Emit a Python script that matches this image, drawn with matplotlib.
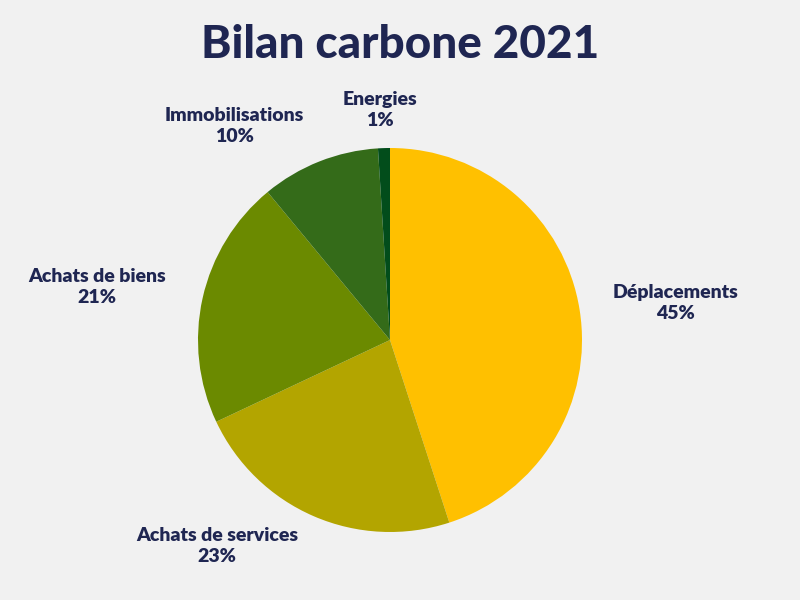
import matplotlib
matplotlib.use("Agg")
import matplotlib.pyplot as plt
import numpy as np

categories = ["Déplacements", "Achats de services", "Achats de biens", "Immobilisations", "Energies"]
values = [45, 23, 21, 10, 1]
colors = ["#FFC000", "#B3A500", "#6B8A00", "#346B19", "#024D1B"]
# label placement (angle in degrees, distance in radii)
label_pos = [(7.4, 1.50), (-130.0, 1.40), (169.7, 1.55), (126.0, 1.38), (92.5, 1.20)]

bg = "#F1F1F1"
txt = "#1F2652"

fig = plt.figure(figsize=(8, 6), dpi=100, facecolor=bg)
ax = fig.add_axes([0, 0, 1, 1])
ax.set_facecolor(bg)
r = 192.0
ax.pie(values, colors=colors, startangle=90, counterclock=False, radius=1,
       wedgeprops=dict(linewidth=0))
ax.set_xlim(-390 / r, 410 / r)
ax.set_ylim(-260 / r, 340 / r)
ax.set_aspect("equal")
ax.axis("off")

for cat, v, (ang, d) in zip(categories, values, label_pos):
    a = np.deg2rad(ang)
    ax.text(d * np.cos(a), d * np.sin(a), f"{cat}\n{v}%", ha="center", va="center",
            fontsize=14, fontweight="heavy", color=txt, family="Lato", linespacing=1.3)

fig.text(0.5, 0.925, "Bilan carbone 2021", ha="center", va="center",
         fontsize=33, fontweight="black", color=txt, family="Lato")

fig.savefig("out.png", dpi=100, facecolor=bg)
